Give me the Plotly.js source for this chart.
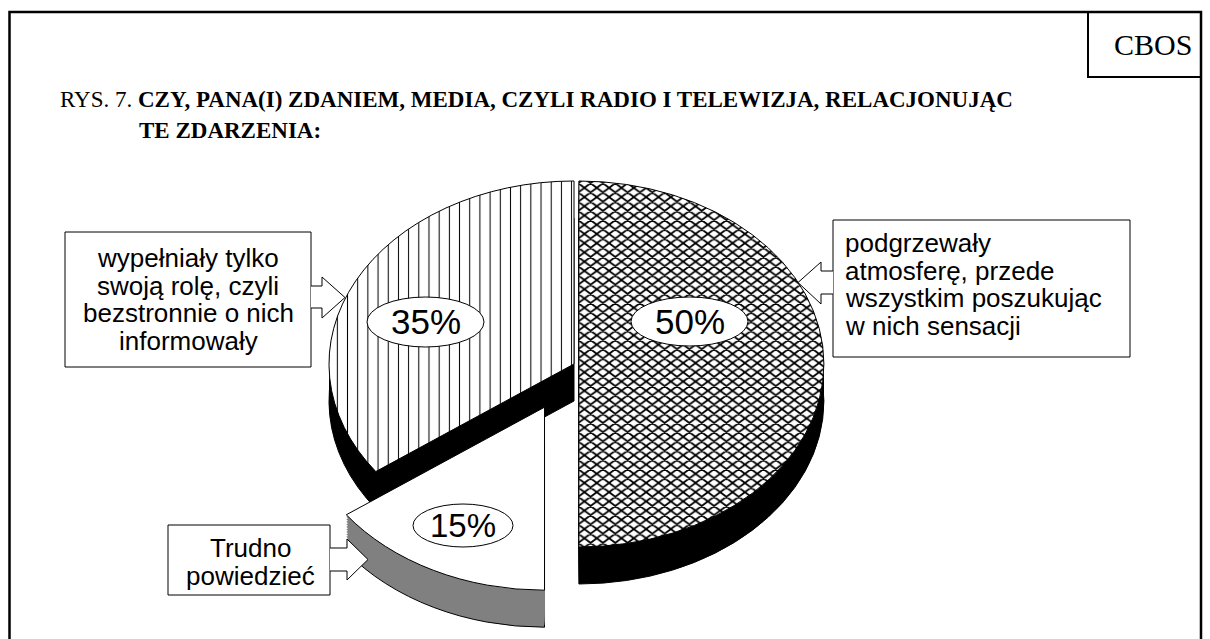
<!DOCTYPE html>
<html>
<head>
<meta charset="utf-8">
<script src="https://cdn.plot.ly/plotly-3.0.1.min.js"></script>
<style>
html,body{margin:0;padding:0;background:#ffffff;overflow:hidden}
#chart{width:1210px;height:639px}
</style>
</head>
<body>
<div id="chart"></div>
<script>
// ---------- data ----------
const categories = [
  'podgrzewały atmosferę, przede wszystkim poszukując w nich sensacji',
  'Trudno powiedzieć',
  'wypełniały tylko swoją rolę, czyli bezstronnie o nich informowały'
];
const values = [50, 15, 35];
const linesSensacja = ['podgrzewały', 'atmosferę, przede', 'wszystkim poszukując', 'w nich sensacji'];
const linesTrudno = ['Trudno', 'powiedzieć'];
const linesRola = ['wypełniały tylko', 'swoją rolę, czyli', 'bezstronnie o nich', 'informowały'];
const titlePrefix = 'RYS. 7.';
const titleLine1 = 'CZY, PANA(I) ZDANIEM, MEDIA, CZYLI RADIO I TELEWIZJA, RELACJONUJĄC';
const titleLine2 = 'TE ZDARZENIA:';
const sourceLabel = 'CBOS';

// ---------- layout helpers ----------
const W = 1210, H = 639;
const px = x => x / W;
const py = y => 1 - y / H;
const CX = 574, CY = 364, RX = 245, RY = 183, DEPTH = 37;

const pieBase = {
  type: 'pie', values: values, labels: categories, sort: false,
  direction: 'clockwise', rotation: 0, pull: [0.02, 0.265, 0],
  textinfo: 'none', hoverinfo: 'skip', showlegend: false,
  domain: {x: [0.2, 0.75], y: [0, 1]}
};

const offsets = [];
for (let d = DEPTH; d > 0; d -= 2.5) offsets.push(d);
const traces = offsets.map((d, i) => Object.assign({}, pieBase, {
  marker: {colors: ['#000000', '#808080', '#000000'],
           line: {color: '#000000', width: i === 0 ? 1 : 0}}
}));
traces.push(Object.assign({}, pieBase, {
  marker: {
    colors: ['#ffffff', '#ffffff', '#ffffff'],
    line: {color: '#000000', width: 1},
    pattern: {shape: ['x', '', '|'], fgcolor: '#000000', bgcolor: '#ffffff',
              size: [9, 8, 10.5], solidity: [0.42, 0.2, 0.1], fillmode: 'replace'}
  }
}));
offsets.push(0);

function pathStr(pts) {
  return pts.map((p, i) => (i ? 'L' : 'M') + px(p[0]) + ',' + py(p[1])).join(' ');
}
const blk = {color: '#000000', width: 1};
const shapes = [];
// frame
shapes.push({type: 'path', xref: 'paper', yref: 'paper', layer: 'above',
  path: pathStr([[9.5, 700], [9.5, 12], [1201, 12], [1201, 700]]),
  line: {color: '#000000', width: 2.5}, fillcolor: 'rgba(0,0,0,0)'});
// CBOS box
shapes.push({type: 'path', xref: 'paper', yref: 'paper', layer: 'above',
  path: pathStr([[1088, 12], [1088, 77], [1201, 77]]),
  line: {color: '#000000', width: 2}, fillcolor: 'rgba(0,0,0,0)'});
// label boxes
function box(x0, y0, x1, y1) {
  shapes.push({type: 'rect', xref: 'paper', yref: 'paper', layer: 'above',
    x0: px(x0), x1: px(x1), y0: py(y1), y1: py(y0), line: blk, fillcolor: '#ffffff'});
}
box(65, 232, 311, 367);
box(833, 220, 1130, 357);
box(168, 525, 330, 595);
// block arrows
function arrow(pts) {
  shapes.push({type: 'path', xref: 'paper', yref: 'paper', layer: 'above',
    path: pathStr(pts), line: blk, fillcolor: '#ffffff'});
}
arrow([[311, 286], [322, 286], [322, 277], [345, 297.5], [322, 318], [322, 308], [311, 308]]);
arrow([[833, 271], [821, 271], [821, 262], [798, 282.5], [821, 304], [821, 294], [833, 294]]);
arrow([[330, 548], [347, 548], [347, 539], [368, 559.5], [347, 580], [347, 571], [330, 571]]);
// percent ellipses
const ell = [[631, 297, 748, 346], [413, 504, 513, 547], [367, 297, 484, 347]];
ell.forEach(e => shapes.push({type: 'circle', xref: 'paper', yref: 'paper', layer: 'above',
  x0: px(e[0]), x1: px(e[2]), y0: py(e[3]), y1: py(e[1]), line: blk, fillcolor: '#ffffff'}));

const sans = 'Liberation Sans, Arial, sans-serif';
const serif = 'Liberation Serif, Times New Roman, serif';
const annotations = [];
function ann(text, x, y, size, family, xanchor) {
  annotations.push({text: text, x: px(x), y: py(y), xref: 'paper', yref: 'paper',
    showarrow: false, xanchor: xanchor || 'center', yanchor: 'middle',
    font: {family: family, size: size, color: '#000000'}, borderpad: 0});
}
ann(titlePrefix + ' <b>' + titleLine1 + '</b>', 59, 99, 23, serif, 'left');
ann('<b>' + titleLine2 + '</b>', 138, 131, 23, serif, 'left');
ann(sourceLabel, 1153, 44, 30, serif);
const pctSizes = [35, 33, 35];
values.forEach((v, i) => {
  const e = ell[i];
  ann(v + '%', (e[0] + e[2]) / 2, (e[1] + e[3]) / 2, pctSizes[i], sans);
});
const rolaY = [258, 285.5, 313, 340.5];
linesRola.forEach((t, i) => ann(t, 188, rolaY[i], 26, sans));
const sensY = [243, 270.5, 298, 325.5];
linesSensacja.forEach((t, i) => ann(t, 844, sensY[i], 26, sans, 'left'));
const trY = [548, 576];
linesTrudno.forEach((t, i) => ann(t, 250, trY[i], 26, sans));

const layout = {
  width: W, height: H, margin: {l: 0, r: 0, t: 0, b: 0},
  paper_bgcolor: '#ffffff', plot_bgcolor: '#ffffff', showlegend: false,
  shapes: shapes, annotations: annotations
};

Plotly.newPlot('chart', traces, layout, {staticPlot: true, displayModeBar: false}).then(gd => {
  const groups = gd.querySelectorAll('.pielayer g.trace');
  const k = RY / RX;
  groups.forEach((g, i) => {
    const cd0 = gd.calcdata[i][0];
    const s = RX / cd0.r;
    g.setAttribute('transform', 'translate(' + CX + ',' + (CY + offsets[i]) + ') scale(' + s + ',' + (s * k) + ') translate(' + (-cd0.cx) + ',' + (-cd0.cy) + ')');
    g.querySelectorAll('path').forEach(p => p.setAttribute('vector-effect', 'non-scaling-stroke'));
  });
});
</script>
</body>
</html>
